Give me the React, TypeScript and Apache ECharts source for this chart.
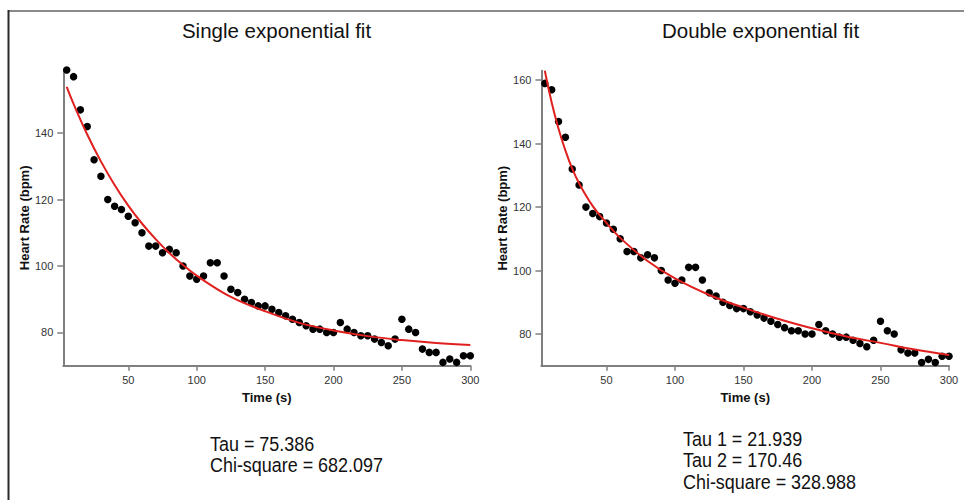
import React, { useEffect, useRef } from "react";
import * as echarts from "echarts";

const FONT = "'Liberation Sans', Arial, Helvetica, sans-serif";

// Measured heart rate samples (s, bpm)
const timeS = [
  5, 10, 15, 20, 25, 30, 35, 40, 45, 50, 55, 60, 65, 70, 75, 80, 85, 90, 95, 100,
  105, 110, 115, 120, 125, 130, 135, 140, 145, 150, 155, 160, 165, 170, 175, 180, 185, 190, 195, 200,
  205, 210, 215, 220, 225, 230, 235, 240, 245, 250, 255, 260, 265, 270, 275, 280, 285, 290, 295, 300,
];
const heartRate = [
  159, 157, 147, 142, 132, 127, 120, 118, 117, 115, 113, 110, 106, 106, 104, 105, 104, 100, 97, 96,
  97, 101, 101, 97, 93, 92, 90, 89, 88, 88, 87, 86, 85, 84, 83, 82, 81, 81, 80, 80,
  83, 81, 80, 79, 79, 78, 77, 76, 78, 84, 81, 80, 75, 74, 74, 71, 72, 71, 73, 73,
];

// Fitted curves
const singleFitTime = [5, 10, 20, 30, 40, 50, 60, 70, 80, 90, 100, 125, 150, 175, 200, 225, 250, 275, 300];
const singleFitHR = [153.9, 148.8, 139.6, 131.5, 124.4, 118.2, 112.8, 108.1, 103.9, 100.3, 97.1, 90.7, 86.4, 82.9, 80.6, 78.9, 77.7, 76.8, 76.2];

const doubleFitTime = [5, 10, 15, 20, 25, 30, 40, 50, 60, 80, 100, 125, 150, 175, 200, 225, 250, 275, 300];
const doubleFitHR = [163, 153, 144.7, 137.9, 132.1, 127.5, 120.3, 115, 110.3, 103, 97.5, 92.3, 88.3, 84.8, 81.8, 79.2, 77.2, 75.1, 73.4];

const xTicks = [50, 100, 150, 200, 250, 300];
const yTicksLeft = [80, 100, 120, 140];
const yTicksRight = [80, 100, 120, 140, 160];

const titles = ["Single exponential fit", "Double exponential fit"];
const leftStats = ["Tau = 75.386", "Chi-square = 682.097"];
const rightStats = ["Tau 1 = 21.939", "Tau 2 = 170.46", "Chi-square = 328.988"];

const AXIS_COLOR = "#7f7f7f";
const RED = "#e0201e";

function pairs(xs: number[], ys: number[]) {
  return xs.map((x, i) => [x, ys[i]]);
}

function makeX(gridIndex: number) {
  return {
    type: "value",
    gridIndex,
    min: 2.5,
    max: 300,
    name: "Time (s)",
    nameLocation: "middle",
    nameGap: 22,
    nameTextStyle: { fontFamily: FONT, fontWeight: "bold", fontSize: 13, color: "#111" },
    axisLine: { show: true, onZero: false, lineStyle: { color: AXIS_COLOR, width: 2 } },
    axisTick: { show: true, length: 5, customValues: xTicks, lineStyle: { color: AXIS_COLOR, width: 1.5 } },
    axisLabel: { customValues: xTicks, color: "#333", fontSize: 11, fontFamily: FONT, margin: 9 },
    splitLine: { show: false },
  };
}

function makeY(gridIndex: number, min: number, max: number, ticks: number[], gap: number) {
  return {
    type: "value",
    gridIndex,
    min,
    max,
    name: "Heart Rate (bpm)",
    nameLocation: "middle",
    nameGap: gap,
    nameRotate: 90,
    nameTextStyle: { fontFamily: FONT, fontWeight: "bold", fontSize: 13, color: "#111" },
    axisLine: { show: true, onZero: false, lineStyle: { color: AXIS_COLOR, width: 2 } },
    axisTick: { show: true, length: 6, customValues: ticks, lineStyle: { color: AXIS_COLOR, width: 1.5 } },
    axisLabel: { customValues: ticks, color: "#333", fontSize: 11, fontFamily: FONT, margin: 10 },
    splitLine: { show: false },
  };
}

function statTexts(lines: string[], x: number, ys: number[]) {
  return lines.map((t, i) => ({
    type: "text",
    x,
    y: ys[i],
    scaleX: 0.875,
    style: {
      text: t,
      x: 0,
      y: 0,
      fill: "#111",
      font: `20.5px ${FONT}`,
      textAlign: "left",
      textVerticalAlign: "middle",
    },
  }));
}

export default function App() {
  const ref = useRef<HTMLDivElement>(null);

  useEffect(() => {
    if (!ref.current) return;
    const chart = echarts.init(ref.current, undefined, { renderer: "svg" });
    const option: any = {
      animation: false,
      backgroundColor: "#ffffff",
      grid: [
        { left: 63.3, top: 70, width: 407, height: 295.7 },
        { left: 541.4, top: 70.7, width: 407.6, height: 295 },
      ],
      xAxis: [makeX(0), makeX(1)],
      yAxis: [makeY(0, 70, 159, yTicksLeft, 30), makeY(1, 70, 163, yTicksRight, 28)],
      series: [
        {
          type: "scatter",
          xAxisIndex: 0,
          yAxisIndex: 0,
          data: pairs(timeS, heartRate),
          symbolSize: 7.5,
          itemStyle: { color: "#000", opacity: 1 },
          z: 2,
        },
        {
          type: "line",
          xAxisIndex: 0,
          yAxisIndex: 0,
          data: pairs(singleFitTime, singleFitHR),
          smooth: 0.4,
          showSymbol: false,
          lineStyle: { color: RED, width: 2 },
          z: 3,
        },
        {
          type: "scatter",
          xAxisIndex: 1,
          yAxisIndex: 1,
          data: pairs(timeS, heartRate),
          symbolSize: 7.5,
          itemStyle: { color: "#000", opacity: 1 },
          z: 2,
        },
        {
          type: "line",
          xAxisIndex: 1,
          yAxisIndex: 1,
          data: pairs(doubleFitTime, doubleFitHR),
          smooth: 0.4,
          showSymbol: false,
          clip: true,
          lineStyle: { color: RED, width: 2 },
          z: 3,
        },
      ],
      graphic: [
        { type: "line", shape: { x1: 8, y1: 11, x2: 964, y2: 11 }, style: { stroke: "#8a8a8a", lineWidth: 2 } },
        { type: "line", shape: { x1: 8.5, y1: 10, x2: 8.5, y2: 500 }, style: { stroke: "#2a2a2a", lineWidth: 2 } },
        {
          type: "text",
          x: 276.5,
          y: 30,
          style: { text: titles[0], fill: "#111", font: `20.5px ${FONT}`, textAlign: "center", textVerticalAlign: "middle" },
        },
        {
          type: "text",
          x: 760.5,
          y: 30,
          style: { text: titles[1], fill: "#111", font: `20.5px ${FONT}`, textAlign: "center", textVerticalAlign: "middle" },
        },
        ...statTexts(leftStats, 210, [444, 465]),
        ...statTexts(rightStats, 683, [439, 460.5, 482]),
      ],
    };
    chart.setOption(option);
    return () => chart.dispose();
  }, []);

  return (
    <div
      ref={ref}
      style={{ position: "fixed", left: 0, top: 0, width: 964, height: 500, background: "#fff" }}
    />
  );
}
